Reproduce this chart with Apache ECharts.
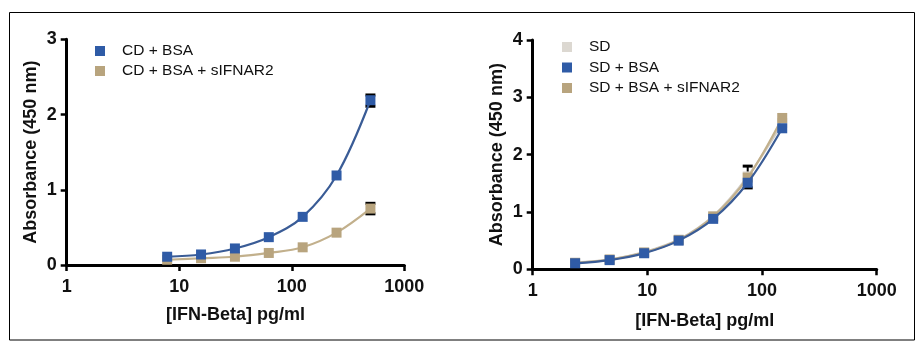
<!DOCTYPE html>
<html>
<head>
<meta charset="utf-8">
<script src="https://cdn.jsdelivr.net/npm/echarts@6/dist/echarts.min.js"></script>
<style>
html,body{margin:0;padding:0;background:#fff;}
#chart{width:922px;height:348px;}
</style>
</head>
<body>
<div id="chart"></div>
<script>
// ---- data ----
const xTickLabels = ['1', '10', '100', '1000'];
const leftConc = [7.8125, 15.625, 31.25, 62.5, 125, 250, 500];
const cdBsa = [0.11, 0.14, 0.22, 0.37, 0.64, 1.19, 2.19];
const cdBsaSifnar2 = [0.07, 0.09, 0.11, 0.16, 0.235, 0.43, 0.75];
const leftErrors = [[500, 2.11, 2.26], [500, 0.68, 0.82]];

const rightConc = [2.34375, 4.6875, 9.375, 18.75, 37.5, 75, 150];
const sd = [0.12, 0.17, 0.30, 0.52, 0.93, 1.62, 2.55];
const sdBsa = [0.105, 0.16, 0.28, 0.50, 0.88, 1.51, 2.46];
const sdBsaSifnar2 = [0.11, 0.17, 0.29, 0.51, 0.92, 1.60, 2.64];
const rightErrors = [[75, 1.42, 1.80]];

const names = {
  cdBsa: 'CD + BSA', cdBsaS: 'CD + BSA + sIFNAR2',
  sd: 'SD', sdBsa: 'SD + BSA', sdBsaS: 'SD + BSA + sIFNAR2'
};

// ---- styles ----
const BLUE = '#2f5ba6', BLUE_LINE = '#3a5c96';
const TAN = '#b8a47e', TAN_LINE = '#c2b08c';
const GRAY = '#dcd8d1', GRAY_LINE = '#cfcbc4';
const FONT = '"Liberation Sans", Arial, sans-serif';

function pairs(xs, ys) { return xs.map((x, i) => [x, ys[i]]); }

function xAxis(gridIndex, nameGap) {
  return {
    gridIndex, type: 'log', logBase: 10, min: 1, max: 1000,
    name: '[IFN-Beta] pg/ml', nameLocation: 'middle', nameGap,
    nameTextStyle: {fontFamily: FONT, fontWeight: 'bold', fontSize: 18, color: '#111'},
    axisLine: {lineStyle: {color: '#000', width: 3}},
    axisTick: {length: 6, lineStyle: {color: '#000', width: 2.5}},
    minorTick: {show: false},
    splitLine: {show: false},
    axisLabel: {fontFamily: FONT, fontWeight: 'bold', fontSize: 18, color: '#111', margin: 13,
      formatter: v => { const s = String(Math.round(v)); return xTickLabels.includes(s) ? s : ''; }}
  };
}
function yAxis(gridIndex, max) {
  return {
    gridIndex, type: 'value', min: 0, max, interval: 1,
    name: 'Absorbance (450 nm)', nameLocation: 'middle', nameGap: 27,
    nameTextStyle: {fontFamily: FONT, fontWeight: 'bold', fontSize: 18, color: '#111'},
    axisLine: {show: true, lineStyle: {color: '#000', width: 3}},
    axisTick: {show: true, length: 6, lineStyle: {color: '#000', width: 2.5}},
    splitLine: {show: false},
    axisLabel: {fontFamily: FONT, fontWeight: 'bold', fontSize: 18, color: '#111', margin: 10}
  };
}
function lineSeries(name, idx, data, color, lineColor, z) {
  return {
    name, type: 'line', xAxisIndex: idx, yAxisIndex: idx, data,
    smooth: 0.35, symbol: 'rect', symbolSize: 10, z,
    itemStyle: {color}, lineStyle: {color: lineColor, width: 2.2}
  };
}
function errSeries(idx, data) {
  return {
    type: 'custom', xAxisIndex: idx, yAxisIndex: idx, data, z: 1,
    renderItem: (params, api) => {
      const lo = api.coord([api.value(0), api.value(1)]);
      const hi = api.coord([api.value(0), api.value(2)]);
      const w = 5;
      const st = {stroke: '#000', lineWidth: 3};
      return {type: 'group', children: [
        {type: 'line', shape: {x1: lo[0], y1: lo[1], x2: hi[0], y2: hi[1]}, style: {stroke: '#000', lineWidth: 2}},
        {type: 'line', shape: {x1: hi[0] - w, y1: hi[1], x2: hi[0] + w, y2: hi[1]}, style: st},
        {type: 'line', shape: {x1: lo[0] - w, y1: lo[1], x2: lo[0] + w, y2: lo[1]}, style: st}
      ]};
    }
  };
}
const legendText = {fontFamily: FONT, fontSize: 15.5, color: '#111', lineHeight: 16, padding: [0, 0, 0, 12]};

const chart = echarts.init(document.getElementById('chart'), null, {renderer: 'canvas'});
chart.setOption({
  animation: false,
  backgroundColor: '#fff',
  graphic: [{type: 'rect', shape: {x: 9.5, y: 12.5, width: 905, height: 327.5},
    style: {fill: 'none', stroke: '#000', lineWidth: 1}, silent: true}],
  grid: [
    {left: 66.7, top: 39.3, width: 337.6, height: 225.7},
    {left: 532.7, top: 40, width: 344, height: 229.3}
  ],
  xAxis: [xAxis(0, 41), xAxis(1, 43)],
  yAxis: [yAxis(0, 3), yAxis(1, 4)],
  legend: [
    {data: [names.cdBsa, names.cdBsaS], orient: 'vertical', left: 90, top: 38,
      itemWidth: 10, itemHeight: 10, itemGap: 4, icon: 'rect', textStyle: legendText},
    {data: [names.sd, names.sdBsa, names.sdBsaS], orient: 'vertical', left: 557, top: 34,
      itemWidth: 10, itemHeight: 10, itemGap: 4.5, icon: 'rect', textStyle: legendText}
  ],
  series: [
    errSeries(0, leftErrors),
    lineSeries(names.cdBsaS, 0, pairs(leftConc, cdBsaSifnar2), TAN, TAN_LINE, 2),
    lineSeries(names.cdBsa, 0, pairs(leftConc, cdBsa), BLUE, BLUE_LINE, 3),
    errSeries(1, rightErrors),
    lineSeries(names.sd, 1, pairs(rightConc, sd), GRAY, GRAY_LINE, 2),
    lineSeries(names.sdBsaS, 1, pairs(rightConc, sdBsaSifnar2), TAN, TAN_LINE, 3),
    lineSeries(names.sdBsa, 1, pairs(rightConc, sdBsa), BLUE, BLUE_LINE, 4)
  ]
});
</script>
</body>
</html>
